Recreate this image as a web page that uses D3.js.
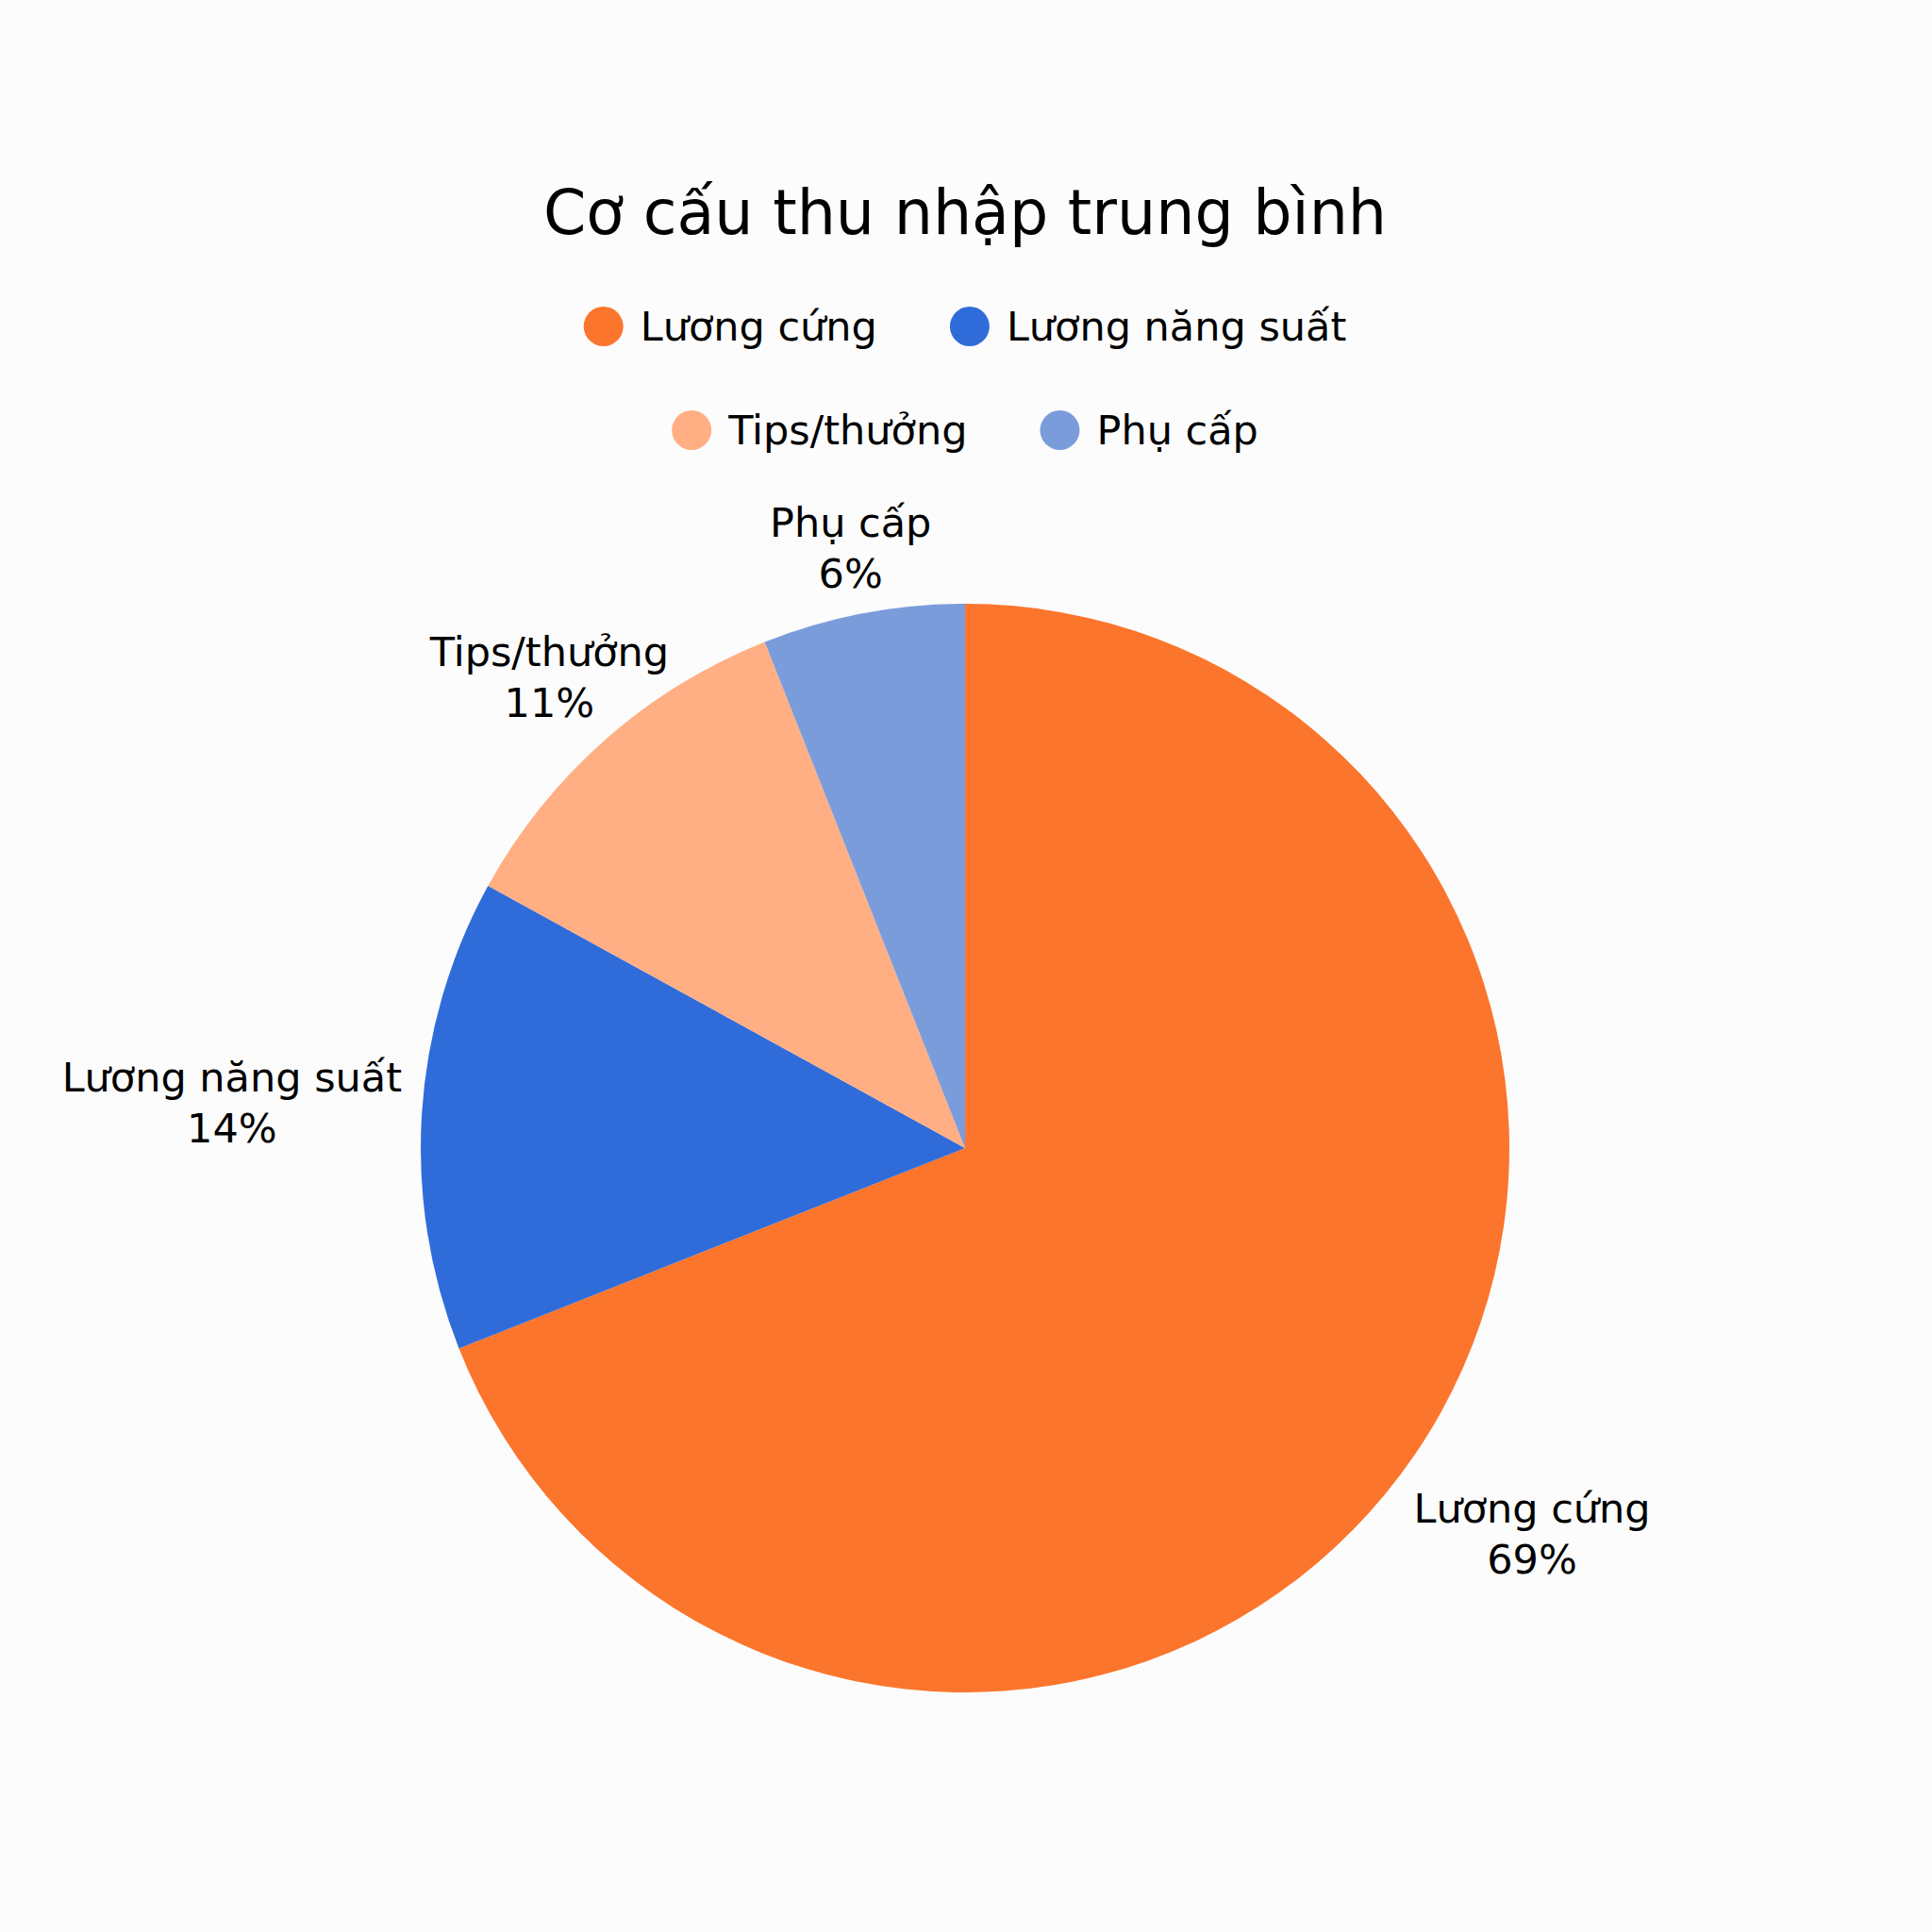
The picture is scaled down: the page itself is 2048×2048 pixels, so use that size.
<!DOCTYPE html>
<html>
<head>
<meta charset="utf-8">
<script src="https://cdn.jsdelivr.net/npm/d3@7"></script>
<style>
  body { margin: 0; background: #fcfcfc; }
  text { font-family: "DejaVu Sans", sans-serif; fill: #000; }
</style>
</head>
<body>
<div id="chart"></div>
<script>
// average income structure
var categories = ["Lương cứng", "Lương năng suất", "Tips/thưởng", "Phụ cấp"];
var values = [69, 14, 11, 6];
var colors = ["#fc752c", "#306cd9", "#ffaf83", "#7b9cdb"];
var title = "Cơ cấu thu nhập trung bình";

var width = 2048, height = 2048;
var cx = 1023, cy = 1217, radius = 577;
var fontSize = 43, lineH = 54;

var svg = d3.select("#chart").append("svg")
    .attr("width", width)
    .attr("height", height);

svg.append("rect")
    .attr("width", width)
    .attr("height", height)
    .attr("fill", "#fcfcfc");

svg.append("text")
    .attr("x", cx)
    .attr("y", 248)
    .attr("text-anchor", "middle")
    .style("font-size", "65px")
    .text(title);

var color = d3.scaleOrdinal()
    .domain(categories)
    .range(colors);

// legend, two rows of two
var legendRows = [[0, 1], [2, 3]];
var legendY = [346, 456];
var legend = svg.append("g");

legendRows.forEach(function(row, r){
    var g = legend.append("g");
    var x = 0;
    row.forEach(function(i){
        var item = g.append("g").attr("transform", "translate(" + x + ",0)");
        item.append("circle")
            .attr("cx", 21)
            .attr("cy", 0)
            .attr("r", 21)
            .attr("fill", color(categories[i]));
        var t = item.append("text")
            .attr("x", 60)
            .attr("y", 15)
            .style("font-size", fontSize + "px")
            .text(categories[i]);
        x += 60 + t.node().getComputedTextLength() + 77;
    });
    var w = x - 77;
    g.attr("transform", "translate(" + (cx - w / 2) + "," + legendY[r] + ")");
});

var pie = d3.pie()
    .sort(null)
    .value(function(d){ return d.value; });

var data = categories.map(function(c, i){ return {name: c, value: values[i]}; });
var arcs = pie(data);

var arc = d3.arc()
    .innerRadius(0)
    .outerRadius(radius);

var pieG = svg.append("g")
    .attr("transform", "translate(" + cx + "," + cy + ")");

pieG.selectAll("path")
    .data(arcs)
    .enter().append("path")
    .attr("d", arc)
    .attr("fill", function(d){ return color(d.data.name); });

// labels outside the pie: pushed out along the mid angle until
// the text keeps a small gap from the pie edge
var clearR = radius + 23;
var capH = fontSize * 0.72;

var labels = pieG.selectAll(".label")
    .data(arcs)
    .enter().append("g")
    .attr("class", "label");

labels.each(function(d){
    var g = d3.select(this);
    var t = g.append("text")
        .attr("text-anchor", "middle")
        .style("font-size", fontSize + "px");
    var lines = [d.data.name, d.data.value + "%"];
    var boxes = lines.map(function(s, i){
        var sp = t.append("tspan").attr("x", 0).attr("y", i * lineH).text(s);
        var w = sp.node().getComputedTextLength();
        return {x0: -w / 2, x1: w / 2, y0: i * lineH - capH, y1: i * lineH};
    });
    // block centre in local coords
    var mx = 0, my = (-capH + lineH) / 2;
    var a = (d.startAngle + d.endAngle) / 2;
    var ux = Math.sin(a), uy = -Math.cos(a);

    function minDist(s){
        var px = s * ux - mx, py = s * uy - my;
        return d3.min(boxes, function(b){
            var dx = Math.max(b.x0 + px, 0, -(b.x1 + px));
            var dy = Math.max(b.y0 + py, 0, -(b.y1 + py));
            return Math.sqrt(dx * dx + dy * dy);
        });
    }
    var lo = 0, hi = 2000;
    for (var k = 0; k < 50; k++){
        var mid = (lo + hi) / 2;
        if (minDist(mid) < clearR) lo = mid; else hi = mid;
    }
    g.attr("transform", "translate(" + (hi * ux - mx) + "," + (hi * uy - my) + ")");
});
</script>
</body>
</html>
